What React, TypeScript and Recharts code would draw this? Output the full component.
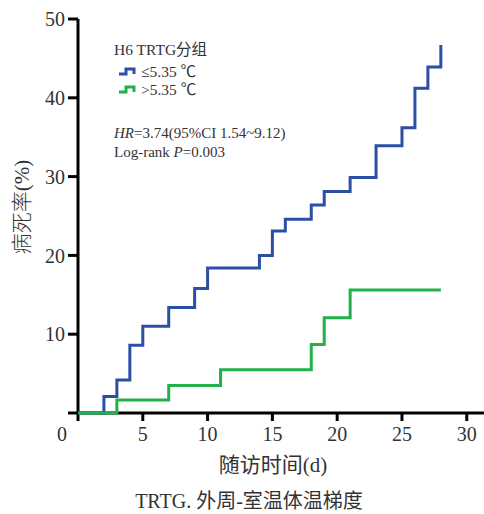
import { Line, LineChart, XAxis, YAxis } from 'recharts';

// follow-up day / mortality %
const LOW_DAYS = [0, 2, 3, 4, 5, 7, 9, 10, 14, 15, 16, 18, 19, 21, 23, 25, 26, 27, 28];
const LOW_RATE = [0, 2.1, 4.2, 8.6, 11.0, 13.4, 15.8, 18.4, 20.0, 23.1, 24.6, 26.4, 28.1, 29.9, 33.9, 36.2, 41.2, 43.9, 46.7];
const HIGH_DAYS = [0, 3, 7, 11, 18, 19, 21, 28];
const HIGH_RATE = [0, 1.65, 3.5, 5.5, 8.7, 12.1, 15.6, 15.6];
const X_TICKS = [0, 5, 10, 15, 20, 25, 30];
const Y_TICKS = [0, 10, 20, 30, 40, 50];

const BLUE = '#2c4fa6';
const GREEN = '#22b04a';
const INK = '#333';
const SERIF = '"Liberation Serif", "Times New Roman", "Noto Sans CJK SC", serif';

const lowData = LOW_DAYS.map((d, i) => ({ day: d, rate: LOW_RATE[i] }));
const highData = HIGH_DAYS.map((d, i) => ({ day: d, rate: HIGH_RATE[i] }));

function XTick({ x, y, payload }: any) {
  const shift = payload.value === 0 ? -16 : 0;
  return (
    <text x={x + shift} y={y} dy="0.71em" textAnchor="middle" fill={INK} fontSize={20} fontFamily={SERIF}>
      {payload.value}
    </text>
  );
}

function YTick({ x, y, payload }: any) {
  if (payload.value === 0) return null;
  return (
    <text x={x} y={y} dy="0.355em" textAnchor="end" fill={INK} fontSize={20} fontFamily={SERIF}>
      {payload.value}
    </text>
  );
}

export default function App() {
  return (
    <div style={{ position: 'absolute', left: 0, top: 0, width: 484, height: 514, background: '#fff', fontFamily: SERIF }}>
      <LineChart width={484} height={514} margin={{ top: 19, right: 0, bottom: 0, left: 0 }}>
        <XAxis
          dataKey="day"
          type="number"
          domain={[0, 31.33]}
          ticks={X_TICKS}
          allowDuplicatedCategory={false}
          axisLine={{ stroke: '#000', strokeWidth: 3 }}
          tickLine={{ stroke: '#000', strokeWidth: 3 }}
          tickSize={8}
          tickMargin={6}
          tick={<XTick />}
          height={101}
        />
        <YAxis
          dataKey="rate"
          type="number"
          domain={[0, 50]}
          ticks={Y_TICKS}
          axisLine={{ stroke: '#000', strokeWidth: 3 }}
          tickLine={{ stroke: '#000', strokeWidth: 3 }}
          tickSize={10}
          tickMargin={3}
          tick={<YTick />}
          width={78}
        />
        <Line
          data={lowData}
          dataKey="rate"
          type="stepAfter"
          stroke={BLUE}
          strokeWidth={3}
          dot={false}
          zIndex={900}
          isAnimationActive={false}
        />
        <Line
          data={highData}
          dataKey="rate"
          type="stepAfter"
          stroke={GREEN}
          strokeWidth={3}
          dot={false}
          zIndex={901}
          isAnimationActive={false}
        />
      </LineChart>

      <svg width={484} height={514} style={{ position: 'absolute', left: 0, top: 0, pointerEvents: 'none' }}>
        <g fontFamily={SERIF} fill={INK}>
          <text x={114} y={55} fontSize={15.5}>H6 TRTG分组</text>
          <path d="M119 74 H126 V69 H134 V74" stroke={BLUE} strokeWidth={3} fill="none" />
          <text x={141} y={77} fontSize={15.5}>≤5.35 ℃</text>
          <path d="M119 92 H126 V87 H134 V92" stroke={GREEN} strokeWidth={3} fill="none" />
          <text x={141} y={95} fontSize={15.5}>&gt;5.35 ℃</text>
          <text x={114} y={138} fontSize={15}>
            <tspan fontStyle="italic">HR</tspan>=3.74(95%CI 1.54~9.12)
          </text>
          <text x={114} y={157} fontSize={15}>
            Log-rank <tspan fontStyle="italic">P</tspan>=0.003
          </text>
          <text x={273} y={472} fontSize={21} textAnchor="middle">随访时间(d)</text>
          <text x={249} y={508} fontSize={20} textAnchor="middle">TRTG. 外周-室温体温梯度</text>
          <text transform="translate(29 207) rotate(-90)" fontSize={21} fontWeight={300} textAnchor="middle">病死率(%)</text>
        </g>
      </svg>
    </div>
  );
}
